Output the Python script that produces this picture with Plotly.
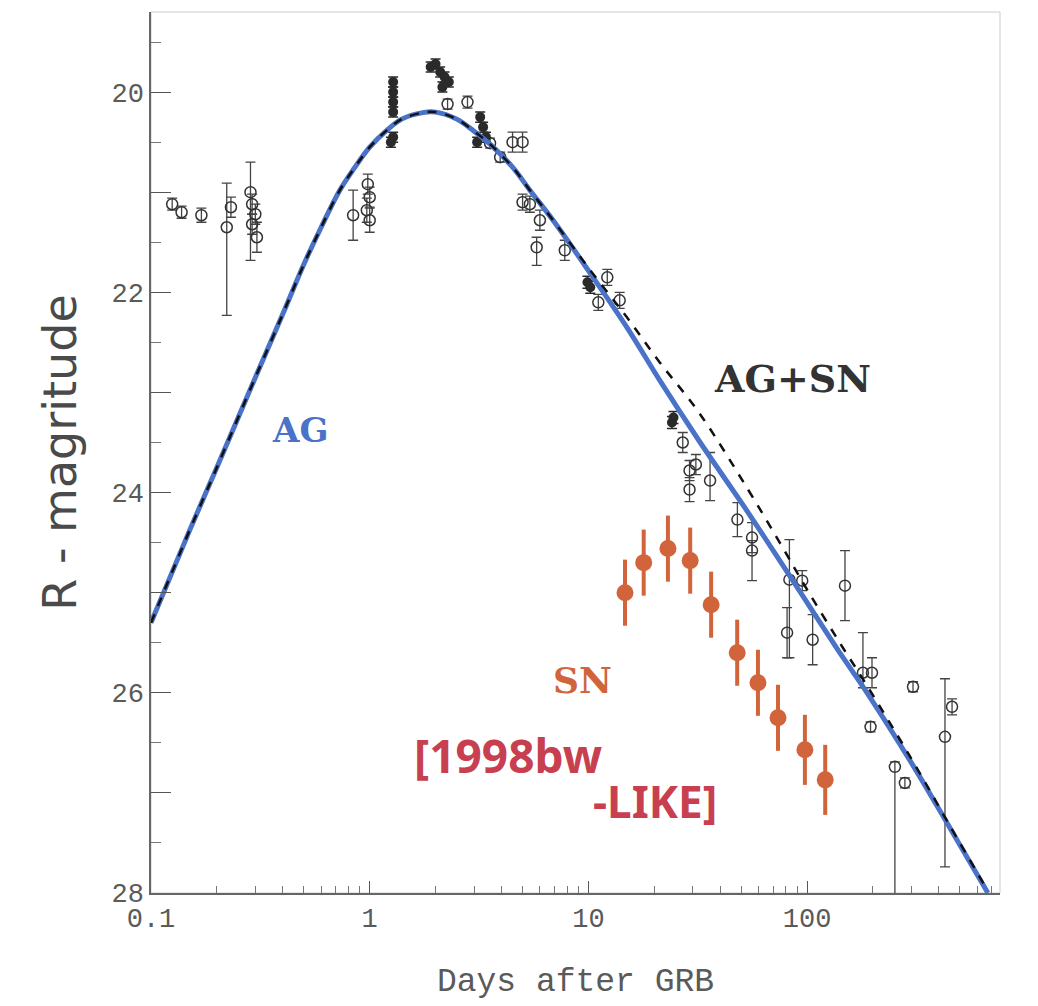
import numpy as np
import plotly.graph_objects as go

# ---------------- data ----------------
# open black circles: days, R mag, error (down = fainter), error (up = brighter)
open_t = [0.125, 0.138, 0.17, 0.222, 0.232, 0.285, 0.29, 0.30, 0.29, 0.305,
          0.84, 0.98, 1.0, 0.97, 1.0,
          2.27, 2.8, 3.55, 4.5, 5.0, 3.95, 5.0, 5.4, 6.0, 5.8, 7.8,
          12.2, 13.9, 11.1,
          27, 29, 31, 29, 36, 48, 56, 56, 83, 95, 81, 106,
          149, 180, 198, 195, 252, 280, 305, 460, 427]
open_m = [21.12, 21.20, 21.23, 21.35, 21.15, 21.00, 21.12, 21.22, 21.32, 21.45,
          21.23, 20.92, 21.05, 21.18, 21.28,
          20.12, 20.10, 20.51, 20.50, 20.50, 20.65, 21.10, 21.12, 21.28, 21.55, 21.58,
          21.85, 22.08, 22.10,
          23.50, 23.78, 23.72, 23.97, 23.88, 24.27, 24.45, 24.58, 24.87, 24.88, 25.40, 25.47,
          24.93, 25.80, 25.80, 26.34, 26.74, 26.90, 25.94, 26.14, 26.44]
open_edn = [0.06, 0.06, 0.07, 0.88, 0.10, 0.68, 0.10, 0.10, 0.10, 0.15,
            0.25, 0.10, 0.10, 0.12, 0.12,
            0.05, 0.06, 0.05, 0.10, 0.10, 0.05, 0.08, 0.08, 0.10, 0.18, 0.10,
            0.08, 0.08, 0.08,
            0.10, 0.10, 0.10, 0.12, 0.20, 0.17, 0.15, 0.30, 0.78, 0.10, 0.25, 0.25,
            0.35, 0.15, 0.15, 0.05, 1.30, 0.05, 0.05, 0.08, 1.30]
open_eup = [0.06, 0.06, 0.07, 0.44, 0.10, 0.30, 0.10, 0.10, 0.10, 0.15,
            0.25, 0.10, 0.10, 0.12, 0.12,
            0.05, 0.06, 0.05, 0.10, 0.10, 0.05, 0.08, 0.08, 0.10, 0.10, 0.10,
            0.08, 0.08, 0.08,
            0.10, 0.10, 0.10, 0.12, 0.28, 0.17, 0.15, 0.10, 0.40, 0.10, 0.25, 0.25,
            0.35, 0.40, 0.15, 0.05, 0.05, 0.05, 0.05, 0.08, 0.58]

# filled black circles
fill_t = [1.28, 1.28, 1.28, 1.28, 1.28, 1.25,
          1.9, 2.0, 2.1, 2.2, 2.3, 2.15,
          3.2, 3.3, 3.4, 3.1,
          10.2, 9.9, 24.1, 24.5]
fill_m = [19.90, 20.00, 20.10, 20.20, 20.45, 20.50,
          19.75, 19.72, 19.80, 19.85, 19.90, 19.95,
          20.25, 20.35, 20.45, 20.50,
          21.95, 21.90, 23.30, 23.25]
fill_e = [0.05, 0.05, 0.05, 0.05, 0.05, 0.05,
          0.05, 0.05, 0.05, 0.05, 0.05, 0.05,
          0.05, 0.05, 0.05, 0.05,
          0.06, 0.06, 0.06, 0.06]

# supernova (1998bw-like) points
sn_t = [14.7, 17.9, 23.1, 29.2, 36.4, 47.9, 59.6, 73.6, 97.7, 121]
sn_m = [25.00, 24.70, 24.56, 24.68, 25.12, 25.60, 25.90, 26.25, 26.57, 26.87]
sn_e = [0.33, 0.33, 0.33, 0.33, 0.33, 0.33, 0.33, 0.33, 0.35, 0.35]

# model curves
model_t = [0.1, 0.15, 0.2, 0.3, 0.4, 0.5, 0.6, 0.73, 0.85, 1.0, 1.2, 1.4, 1.75, 2.0,
           2.5, 3.0, 3.55, 4.5, 5.4, 7, 10.2, 15, 21.2, 32, 53, 75, 100, 141, 188,
           300, 450, 671]
ag_m = [25.30, 24.38, 23.75, 22.85, 22.22, 21.72, 21.35, 20.98, 20.76, 20.55, 20.38,
        20.27, 20.205, 20.20, 20.27, 20.39, 20.52, 20.75, 20.98, 21.30, 21.81, 22.35,
        22.88, 23.48, 24.18, 24.68, 25.10, 25.60, 26.00, 26.70, 27.35, 28.00]
agsn_m = [25.30, 24.38, 23.75, 22.85, 22.22, 21.72, 21.35, 20.98, 20.76, 20.55, 20.38,
          20.27, 20.205, 20.20, 20.27, 20.39, 20.52, 20.75, 20.98, 21.30, 21.78, 22.25,
          22.70, 23.20, 23.95, 24.50, 24.97, 25.50, 25.93, 26.66, 27.33, 27.98]

x_ticks = [0.1, 1, 10, 100]
x_ticktext = ["0.1", "1", "10", "100"]
y_major = [20, 21, 22, 23, 24, 25, 26, 27, 28]
y_ticktext = ["20", "", "22", "", "24", "", "26", "", "28"]

# ---------------- figure ----------------
GREY = "#5a5a5a"
ORANGE = "#d2643c"
BLUE = "#4a72c8"
RED = "#c8404f"

fig = go.Figure()

fig.add_trace(go.Scatter(
    x=open_t, y=open_m, mode="markers",
    marker=dict(symbol="circle-open", size=11, color="#333333", line=dict(width=1.5)),
    error_y=dict(type="data", symmetric=False, array=open_edn, arrayminus=open_eup,
                 color="#444444", thickness=1.3, width=5),
    showlegend=False))

fig.add_trace(go.Scatter(
    x=fill_t, y=fill_m, mode="markers",
    marker=dict(symbol="circle", size=10, color="#2a2a2a"),
    error_y=dict(type="data", array=fill_e, color="#2a2a2a", thickness=1.5, width=5),
    showlegend=False))

fig.add_trace(go.Scatter(
    x=sn_t, y=sn_m, mode="markers",
    marker=dict(symbol="circle", size=17, color=ORANGE),
    error_y=dict(type="data", array=sn_e, color=ORANGE, thickness=4, width=0),
    showlegend=False))

fig.add_trace(go.Scatter(
    x=model_t, y=ag_m, mode="lines", line=dict(color=BLUE, width=5, shape="spline"),
    showlegend=False))

fig.add_trace(go.Scatter(
    x=model_t, y=agsn_m, mode="lines",
    line=dict(color="#111111", width=2.5, dash="dash", shape="spline"),
    showlegend=False))

# text labels
fig.add_annotation(x=-0.319, y=23.38, text="AG", showarrow=False,
                   font=dict(family="DejaVu Serif", size=34, color=BLUE, weight="bold"))
fig.add_annotation(x=1.935, y=22.86, text="AG+SN", showarrow=False,
                   font=dict(family="DejaVu Serif", size=38, color="#333333", weight="bold"))
fig.add_annotation(x=0.975, y=25.87, text="SN", showarrow=False,
                   font=dict(family="DejaVu Serif", size=36, color=ORANGE, weight="bold"))
fig.add_annotation(x=0.632, y=26.62, text="[1998bw", showarrow=False,
                   font=dict(family="Noto Sans", size=46, color=RED, weight="bold"))
fig.add_annotation(x=1.305, y=27.08, text="-LIKE]", showarrow=False,
                   font=dict(family="Noto Sans", size=44, color=RED, weight="bold"))

# light frame at top/right
fig.add_shape(type="rect", xref="x domain", yref="y domain", x0=0, x1=1, y0=0, y1=1,
              line=dict(color="#c8ccd4", width=1), layer="below")

fig.update_xaxes(
    type="log", range=[-1, 2.882],
    tickmode="array", tickvals=x_ticks, ticktext=x_ticktext,
    ticks="inside", ticklen=12, tickwidth=1.2, tickcolor="#555555",
    minor=dict(tickvals=[m * d for d in [0.1, 1, 10, 100] for m in range(2, 10)],
               ticks="inside", ticklen=7, tickcolor="#777777", showgrid=False),
    showline=True, linecolor="#666666", linewidth=1.5,
    showgrid=False, zeroline=False,
    tickfont=dict(family="Liberation Mono", size=27, color=GREY),
    title=dict(text="Days after GRB", standoff=34,
               font=dict(family="Liberation Mono", size=33, color=GREY)),
)
fig.update_yaxes(
    range=[28, 19.2],
    tickmode="array", tickvals=y_major, ticktext=y_ticktext,
    ticks="inside", ticklen=20, tickwidth=1.2, tickcolor="#555555",
    minor=dict(tickvals=[v + 0.5 for v in range(19, 28)], ticks="inside", ticklen=10,
               tickcolor="#777777", showgrid=False),
    showline=True, linecolor="#666666", linewidth=1.5,
    showgrid=False, zeroline=False,
    tickfont=dict(family="Liberation Mono", size=27, color=GREY),
    title=dict(text="R - magritude", standoff=20,
               font=dict(family="DejaVu Sans", size=46, color="#4a4a4a")),
)

fig.update_layout(
    width=1038, height=1006,
    margin=dict(l=151, r=38, t=12, b=113),
    paper_bgcolor="white", plot_bgcolor="white",
)

fig.write_html("out.html")
